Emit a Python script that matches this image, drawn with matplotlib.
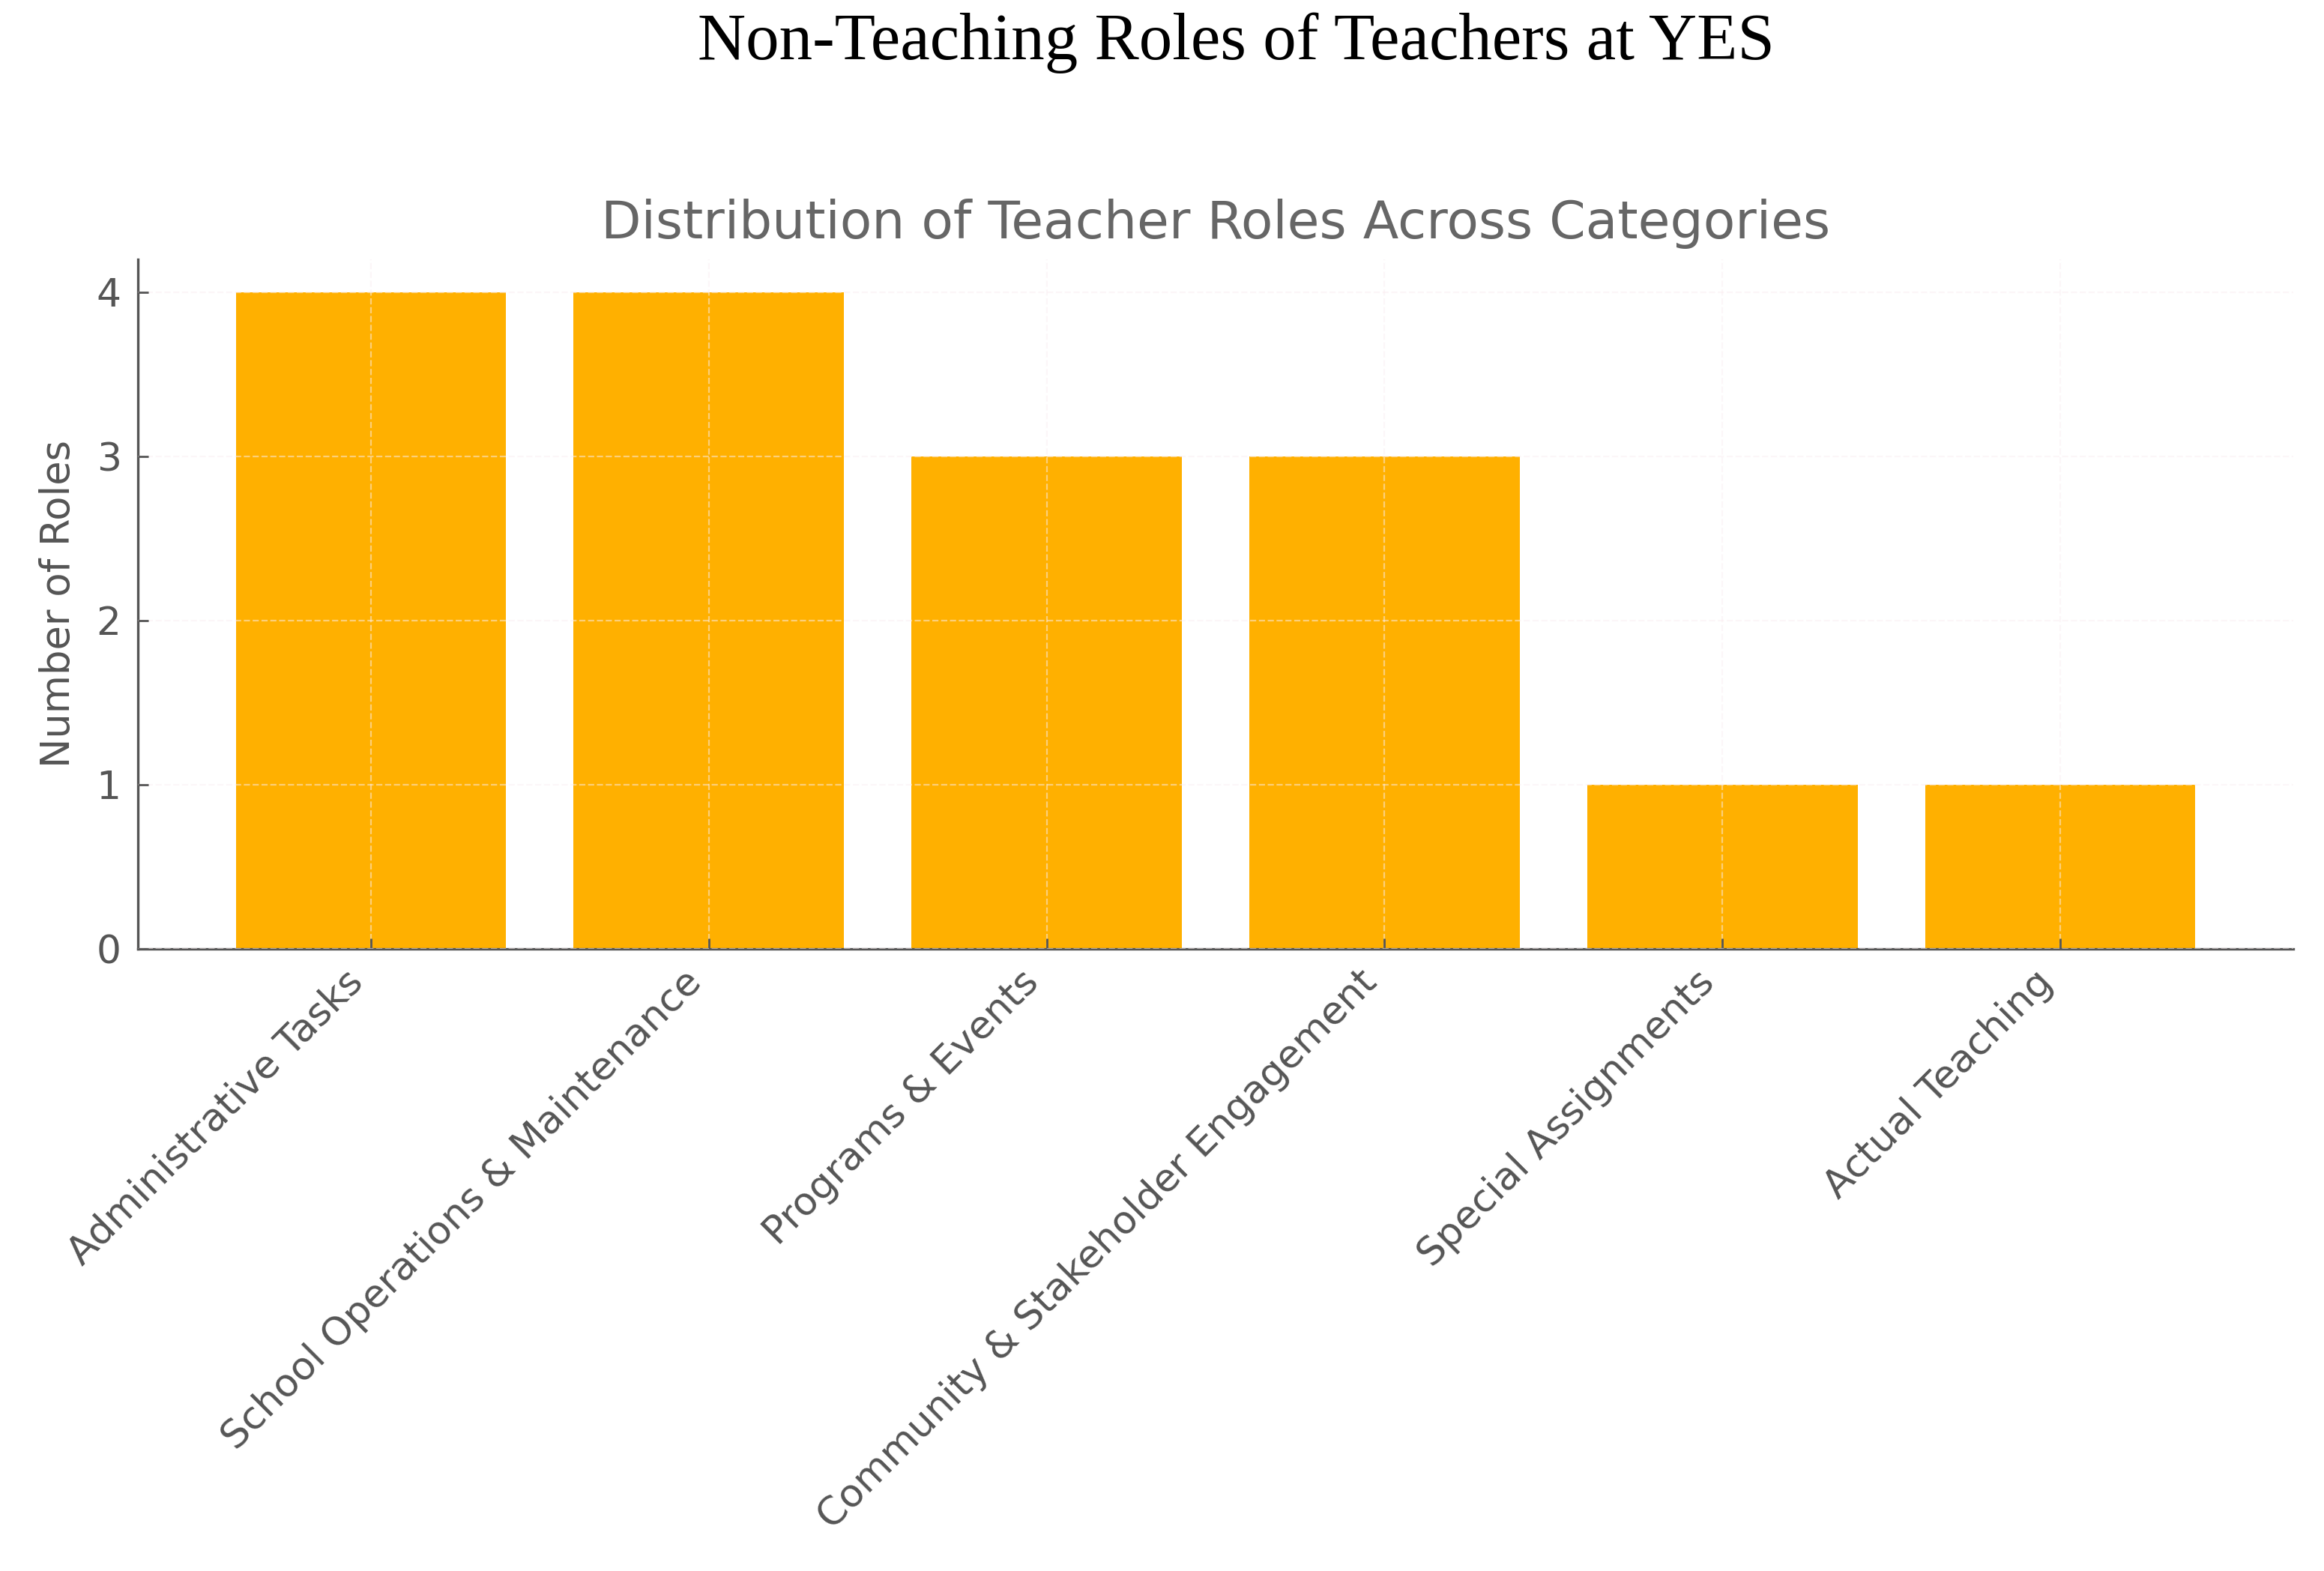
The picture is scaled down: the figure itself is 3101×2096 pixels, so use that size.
import matplotlib
matplotlib.use("Agg")
import matplotlib.pyplot as plt

categories = ["Administrative Tasks", "School Operations & Maintenance", "Programs & Events",
              "Community & Stakeholder Engagement", "Special Assignments", "Actual Teaching"]
counts = [4, 4, 3, 3, 1, 1]
yticks = [0, 1, 2, 3, 4]

suptitle = "Non-Teaching Roles of Teachers at YES"
title = "Distribution of Teacher Roles Across Categories"
ylabel = "Number of Roles"

plt.rcParams['font.family'] = ['DejaVu Sans']
fig = plt.figure(figsize=(15.505, 10.48), dpi=200)
ax = fig.add_axes([0.0593, 0.396, 0.9275, 0.439])

bar_color = "#FFB000"
text_color = "#555555"
ax.bar(range(len(categories)), counts, width=0.8, color=bar_color, zorder=1)

ax.set_axisbelow(False)
ax.grid(True, linestyle='--', linewidth=0.8, color='#fbeef2', alpha=0.5, zorder=3)

ax.set_yticks(yticks)
ax.set_xticks(range(len(categories)))
ax.set_xticklabels(categories, rotation=45, ha='right')
ax.tick_params(axis='both', direction='in', colors=text_color, labelsize=18.7, length=5, width=1, pad=8)
ax.tick_params(axis='x', pad=7)

for s in ['top', 'right']:
    ax.spines[s].set_visible(False)
for s in ['left', 'bottom']:
    ax.spines[s].set_color(text_color)
    ax.spines[s].set_linewidth(1.2)

ax.set_ylabel(ylabel, fontsize=19, color=text_color, labelpad=9)
ax.set_title(title, fontsize=25, color='#666666', pad=10)

fig.text(0.532, 0.992, suptitle, ha='center', va='top', fontsize=32,
         family=['Liberation Serif', 'DejaVu Serif'], color='black')

fig.savefig("out.png", dpi=200, facecolor='white')
